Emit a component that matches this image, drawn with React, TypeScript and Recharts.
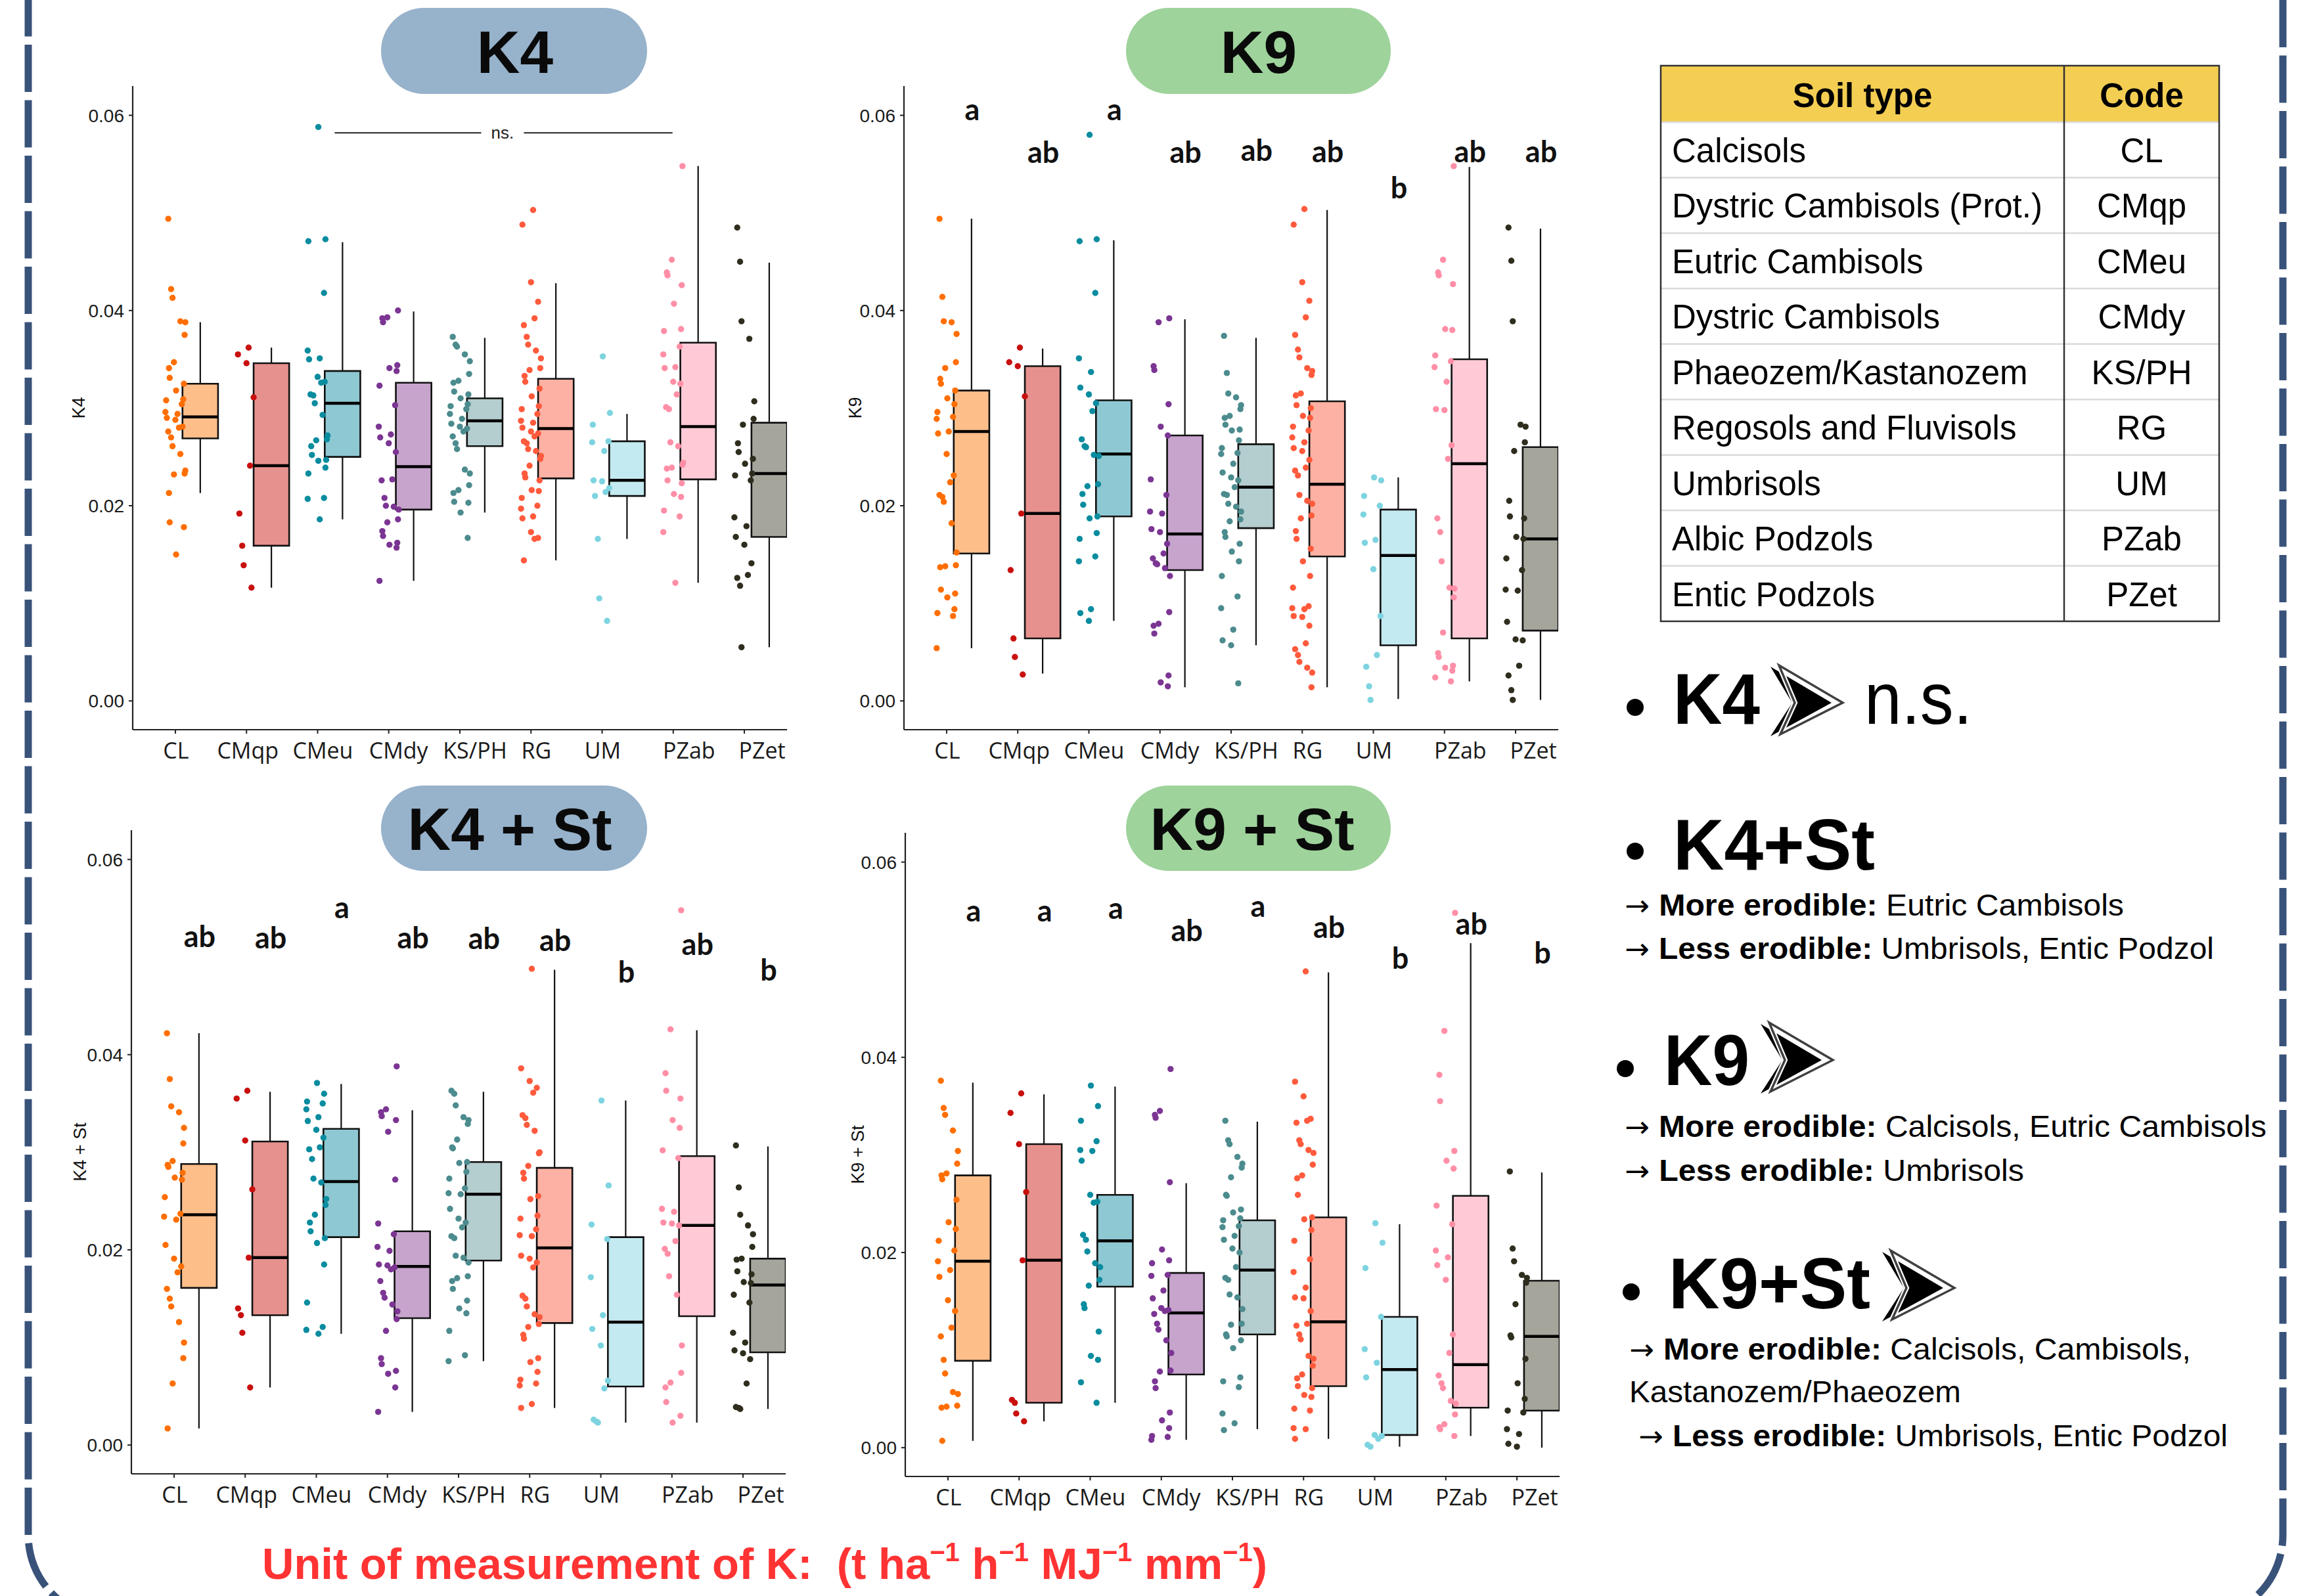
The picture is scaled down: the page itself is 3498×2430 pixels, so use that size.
import React from 'react';
import { ComposedChart, XAxis, YAxis, Scatter, ReferenceArea, ReferenceLine, Label } from 'recharts';

// ---------------- data ----------------
const CATEGORIES = ['CL', 'CMqp', 'CMeu', 'CMdy', 'KS/PH', 'RG', 'UM', 'PZab', 'PZet'];
const Y_TICKS = [0, 0.02, 0.04, 0.06];
const SOIL_TYPES = ['Calcisols', 'Dystric Cambisols (Prot.)', 'Eutric Cambisols', 'Dystric Cambisols', 'Phaeozem/Kastanozem', 'Regosols and Fluvisols', 'Umbrisols', 'Albic Podzols', 'Entic Podzols'];

// [lower whisker, q1, median, q3, upper whisker]
const K4_BOXES = [
  [0.0213, 0.0269, 0.0291, 0.0325, 0.0388], [0.0116, 0.0159, 0.0241, 0.0346, 0.0362], [0.0186, 0.0250, 0.0305, 0.0338, 0.0470],
  [0.0123, 0.0196, 0.0240, 0.0326, 0.0399], [0.0193, 0.0261, 0.0287, 0.0310, 0.0372], [0.0144, 0.0228, 0.0279, 0.0330, 0.0428],
  [0.0166, 0.0210, 0.0226, 0.0266, 0.0294], [0.0121, 0.0227, 0.0281, 0.0367, 0.0548], [0.0055, 0.0168, 0.0233, 0.0285, 0.0449],
];
const K4_POINTS = [
  [0.0494, 0.0422, 0.0413, 0.0389, 0.0388, 0.0375, 0.0347, 0.0341, 0.0331, 0.0325, 0.0318, 0.0309, 0.0308, 0.0304, 0.0296, 0.0294, 0.0290, 0.0288, 0.0281, 0.0280, 0.0276, 0.0270, 0.0261, 0.0253, 0.0236, 0.0233, 0.0232, 0.0213, 0.0183, 0.0178, 0.0150],
  [0.0362, 0.0355, 0.0346, 0.0311, 0.0241, 0.0192, 0.0159, 0.0139, 0.0116],
  [0.0588, 0.0473, 0.0471, 0.0418, 0.0359, 0.0351, 0.0350, 0.0332, 0.0327, 0.0326, 0.0314, 0.0313, 0.0305, 0.0293, 0.0272, 0.0268, 0.0267, 0.0261, 0.0252, 0.0247, 0.0246, 0.0239, 0.0233, 0.0208, 0.0207, 0.0186],
  [0.0400, 0.0393, 0.0392, 0.0388, 0.0344, 0.0341, 0.0338, 0.0323, 0.0303, 0.0281, 0.0273, 0.0270, 0.0264, 0.0255, 0.0227, 0.0226, 0.0208, 0.0200, 0.0199, 0.0196, 0.0186, 0.0183, 0.0174, 0.0169, 0.0162, 0.0160, 0.0157, 0.0123],
  [0.0373, 0.0365, 0.0363, 0.0355, 0.0348, 0.0335, 0.0328, 0.0326, 0.0317, 0.0314, 0.0310, 0.0304, 0.0302, 0.0299, 0.0294, 0.0289, 0.0284, 0.0281, 0.0279, 0.0276, 0.0271, 0.0264, 0.0258, 0.0237, 0.0233, 0.0221, 0.0216, 0.0213, 0.0204, 0.0203, 0.0193, 0.0167],
  [0.0503, 0.0488, 0.0429, 0.0409, 0.0392, 0.0385, 0.0373, 0.0365, 0.0359, 0.0351, 0.0341, 0.0339, 0.0333, 0.0327, 0.0320, 0.0312, 0.0302, 0.0299, 0.0294, 0.0287, 0.0285, 0.0280, 0.0276, 0.0274, 0.0271, 0.0266, 0.0264, 0.0258, 0.0256, 0.0251, 0.0248, 0.0241, 0.0233, 0.0229, 0.0226, 0.0216, 0.0215, 0.0208, 0.0200, 0.0197, 0.0189, 0.0187, 0.0173, 0.0167, 0.0166, 0.0144],
  [0.0353, 0.0295, 0.0283, 0.0266, 0.0265, 0.0256, 0.0226, 0.0225, 0.0218, 0.0214, 0.0210, 0.0166, 0.0105, 0.0082],
  [0.0548, 0.0452, 0.0439, 0.0436, 0.0426, 0.0407, 0.0381, 0.0379, 0.0363, 0.0355, 0.0342, 0.0341, 0.0327, 0.0325, 0.0314, 0.0301, 0.0299, 0.0265, 0.0261, 0.0244, 0.0242, 0.0239, 0.0238, 0.0226, 0.0223, 0.0212, 0.0209, 0.0195, 0.0189, 0.0173, 0.0121],
  [0.0485, 0.0450, 0.0389, 0.0371, 0.0307, 0.0289, 0.0283, 0.0264, 0.0255, 0.0248, 0.0243, 0.0233, 0.0231, 0.0226, 0.0188, 0.0179, 0.0168, 0.0160, 0.0141, 0.0129, 0.0126, 0.0118, 0.0055],
];

const K9_BOXES = [
  [0.0054, 0.0151, 0.0276, 0.0318, 0.0494], [0.0028, 0.0064, 0.0192, 0.0343, 0.0361], [0.0082, 0.0189, 0.0253, 0.0308, 0.0472],
  [0.0014, 0.0134, 0.0171, 0.0272, 0.0391], [0.0057, 0.0177, 0.0219, 0.0263, 0.0372], [0.0014, 0.0148, 0.0222, 0.0307, 0.0503],
  [0.0002, 0.0057, 0.0149, 0.0196, 0.0229], [0.0020, 0.0064, 0.0243, 0.0350, 0.0547], [0.0001, 0.0072, 0.0166, 0.0260, 0.0484],
];
const K9_POINTS = [
  [0.0494, 0.0414, 0.0389, 0.0388, 0.0376, 0.0347, 0.0341, 0.0330, 0.0325, 0.0318, 0.0310, 0.0304, 0.0296, 0.0291, 0.0289, 0.0276, 0.0274, 0.0253, 0.0231, 0.0224, 0.0211, 0.0209, 0.0204, 0.0182, 0.0152, 0.0139, 0.0138, 0.0137, 0.0114, 0.0110, 0.0106, 0.0094, 0.0090, 0.0087, 0.0054],
  [0.0362, 0.0347, 0.0343, 0.0312, 0.0192, 0.0134, 0.0064, 0.0045, 0.0027],
  [0.0580, 0.0473, 0.0471, 0.0418, 0.0351, 0.0337, 0.0321, 0.0314, 0.0305, 0.0297, 0.0268, 0.0261, 0.0260, 0.0252, 0.0251, 0.0222, 0.0220, 0.0212, 0.0201, 0.0189, 0.0187, 0.0172, 0.0166, 0.0148, 0.0143, 0.0094, 0.0090, 0.0082],
  [0.0392, 0.0388, 0.0343, 0.0339, 0.0304, 0.0281, 0.0272, 0.0227, 0.0211, 0.0194, 0.0192, 0.0176, 0.0173, 0.0161, 0.0151, 0.0146, 0.0141, 0.0140, 0.0136, 0.0128, 0.0091, 0.0079, 0.0077, 0.0069, 0.0026, 0.0019, 0.0015],
  [0.0374, 0.0336, 0.0315, 0.0311, 0.0303, 0.0299, 0.0292, 0.0290, 0.0283, 0.0278, 0.0277, 0.0267, 0.0259, 0.0254, 0.0253, 0.0243, 0.0234, 0.0229, 0.0226, 0.0219, 0.0212, 0.0211, 0.0202, 0.0199, 0.0194, 0.0186, 0.0184, 0.0173, 0.0168, 0.0161, 0.0153, 0.0143, 0.0128, 0.0107, 0.0095, 0.0073, 0.0062, 0.0057, 0.0018],
  [0.0504, 0.0488, 0.0429, 0.0410, 0.0393, 0.0375, 0.0360, 0.0352, 0.0341, 0.0338, 0.0334, 0.0315, 0.0313, 0.0303, 0.0300, 0.0292, 0.0290, 0.0281, 0.0277, 0.0270, 0.0265, 0.0259, 0.0256, 0.0247, 0.0239, 0.0236, 0.0231, 0.0211, 0.0205, 0.0202, 0.0190, 0.0187, 0.0174, 0.0166, 0.0156, 0.0143, 0.0128, 0.0116, 0.0097, 0.0095, 0.0094, 0.0087, 0.0086, 0.0077, 0.0059, 0.0053, 0.0047, 0.0040, 0.0034, 0.0029, 0.0014],
  [0.0229, 0.0226, 0.0210, 0.0200, 0.0191, 0.0165, 0.0162, 0.0135, 0.0087, 0.0047, 0.0035, 0.0015, 0.0001],
  [0.0548, 0.0452, 0.0439, 0.0436, 0.0427, 0.0381, 0.0380, 0.0354, 0.0348, 0.0342, 0.0327, 0.0299, 0.0298, 0.0262, 0.0248, 0.0187, 0.0173, 0.0143, 0.0116, 0.0115, 0.0106, 0.0070, 0.0049, 0.0045, 0.0036, 0.0034, 0.0031, 0.0024, 0.0020],
  [0.0485, 0.0451, 0.0389, 0.0283, 0.0281, 0.0265, 0.0256, 0.0205, 0.0189, 0.0187, 0.0168, 0.0166, 0.0146, 0.0134, 0.0114, 0.0113, 0.0081, 0.0063, 0.0062, 0.0036, 0.0026, 0.0011, 0.0001],
];
const K9_LETTERS = ['a', 'ab', 'a', 'ab', 'ab', 'ab', 'b', 'ab', 'ab'];
const K9_LETTER_Y = [0.0595, 0.0551, 0.0595, 0.0551, 0.0553, 0.0552, 0.0515, 0.0552, 0.0552];

const K4ST_BOXES = [
  [0.0017, 0.0161, 0.0236, 0.0288, 0.0422], [0.0059, 0.0133, 0.0192, 0.0311, 0.0362], [0.0114, 0.0213, 0.0270, 0.0324, 0.0370],
  [0.0034, 0.0130, 0.0183, 0.0219, 0.0343], [0.0086, 0.0189, 0.0257, 0.0290, 0.0362], [0.0038, 0.0125, 0.0202, 0.0284, 0.0487],
  [0.0023, 0.0060, 0.0126, 0.0213, 0.0353], [0.0023, 0.0132, 0.0225, 0.0296, 0.0425], [0.0037, 0.0095, 0.0164, 0.0191, 0.0306],
];
const K4ST_POINTS = [
  [0.0422, 0.0375, 0.0347, 0.0341, 0.0325, 0.0309, 0.0291, 0.0287, 0.0285, 0.0279, 0.0274, 0.0272, 0.0254, 0.0237, 0.0234, 0.0231, 0.0205, 0.0191, 0.0183, 0.0177, 0.0160, 0.0150, 0.0142, 0.0126, 0.0105, 0.0089, 0.0063, 0.0017],
  [0.0363, 0.0355, 0.0312, 0.0262, 0.0192, 0.0140, 0.0133, 0.0115, 0.0059],
  [0.0371, 0.0360, 0.0352, 0.0350, 0.0344, 0.0336, 0.0332, 0.0323, 0.0315, 0.0305, 0.0303, 0.0293, 0.0273, 0.0269, 0.0252, 0.0246, 0.0236, 0.0228, 0.0219, 0.0212, 0.0207, 0.0185, 0.0146, 0.0121, 0.0118, 0.0114],
  [0.0388, 0.0344, 0.0341, 0.0337, 0.0333, 0.0321, 0.0272, 0.0227, 0.0216, 0.0203, 0.0199, 0.0185, 0.0184, 0.0182, 0.0180, 0.0168, 0.0156, 0.0151, 0.0144, 0.0137, 0.0129, 0.0117, 0.0089, 0.0083, 0.0076, 0.0073, 0.0059, 0.0034],
  [0.0363, 0.0360, 0.0348, 0.0336, 0.0333, 0.0329, 0.0313, 0.0305, 0.0304, 0.0290, 0.0289, 0.0280, 0.0273, 0.0263, 0.0258, 0.0257, 0.0242, 0.0232, 0.0228, 0.0223, 0.0214, 0.0212, 0.0194, 0.0192, 0.0187, 0.0173, 0.0171, 0.0168, 0.0160, 0.0148, 0.0140, 0.0135, 0.0117, 0.0092, 0.0086],
  [0.0488, 0.0386, 0.0373, 0.0366, 0.0361, 0.0338, 0.0335, 0.0328, 0.0322, 0.0300, 0.0299, 0.0286, 0.0279, 0.0273, 0.0255, 0.0252, 0.0235, 0.0232, 0.0221, 0.0215, 0.0214, 0.0194, 0.0191, 0.0187, 0.0182, 0.0153, 0.0150, 0.0142, 0.0134, 0.0131, 0.0124, 0.0121, 0.0113, 0.0109, 0.0089, 0.0085, 0.0075, 0.0067, 0.0063, 0.0061, 0.0042, 0.0038],
  [0.0353, 0.0266, 0.0226, 0.0211, 0.0172, 0.0133, 0.0119, 0.0102, 0.0066, 0.0058, 0.0026, 0.0024, 0.0023],
  [0.0548, 0.0426, 0.0381, 0.0363, 0.0355, 0.0333, 0.0325, 0.0302, 0.0294, 0.0242, 0.0239, 0.0228, 0.0227, 0.0225, 0.0209, 0.0201, 0.0196, 0.0173, 0.0154, 0.0102, 0.0074, 0.0064, 0.0059, 0.0044, 0.0030, 0.0023],
  [0.0307, 0.0264, 0.0236, 0.0225, 0.0216, 0.0203, 0.0191, 0.0190, 0.0178, 0.0175, 0.0167, 0.0166, 0.0154, 0.0146, 0.0115, 0.0105, 0.0097, 0.0094, 0.0088, 0.0063, 0.0039, 0.0038, 0.0037],
];
const K4ST_LETTERS = ['ab', 'ab', 'a', 'ab', 'ab', 'ab', 'b', 'ab', 'b'];
const K4ST_LETTER_Y = [0.0510, 0.0509, 0.0540, 0.0509, 0.0508, 0.0506, 0.0474, 0.0502, 0.0476];

const K9ST_BOXES = [
  [0.0007, 0.0089, 0.0191, 0.0279, 0.0374], [0.0027, 0.0046, 0.0192, 0.0311, 0.0362], [0.0046, 0.0165, 0.0212, 0.0259, 0.0370],
  [0.0008, 0.0075, 0.0138, 0.0179, 0.0271], [0.0019, 0.0116, 0.0182, 0.0233, 0.0334], [0.0009, 0.0063, 0.0129, 0.0236, 0.0487],
  [0.0001, 0.0013, 0.0080, 0.0134, 0.0229], [0.0012, 0.0041, 0.0085, 0.0258, 0.0517], [0.0000, 0.0038, 0.0114, 0.0171, 0.0282],
];
const K9ST_POINTS = [
  [0.0376, 0.0348, 0.0341, 0.0325, 0.0304, 0.0291, 0.0281, 0.0279, 0.0275, 0.0254, 0.0231, 0.0224, 0.0212, 0.0202, 0.0191, 0.0182, 0.0175, 0.0151, 0.0140, 0.0123, 0.0114, 0.0090, 0.0076, 0.0057, 0.0055, 0.0043, 0.0042, 0.0041, 0.0007],
  [0.0363, 0.0343, 0.0311, 0.0262, 0.0192, 0.0049, 0.0046, 0.0035, 0.0027],
  [0.0371, 0.0350, 0.0335, 0.0314, 0.0305, 0.0304, 0.0294, 0.0259, 0.0252, 0.0251, 0.0218, 0.0213, 0.0201, 0.0189, 0.0185, 0.0172, 0.0166, 0.0147, 0.0143, 0.0119, 0.0094, 0.0090, 0.0067, 0.0046],
  [0.0388, 0.0345, 0.0341, 0.0338, 0.0272, 0.0203, 0.0192, 0.0189, 0.0177, 0.0176, 0.0161, 0.0153, 0.0143, 0.0141, 0.0140, 0.0137, 0.0127, 0.0121, 0.0110, 0.0097, 0.0079, 0.0078, 0.0068, 0.0061, 0.0036, 0.0028, 0.0020, 0.0012, 0.0011, 0.0008],
  [0.0335, 0.0315, 0.0311, 0.0298, 0.0291, 0.0287, 0.0277, 0.0259, 0.0258, 0.0244, 0.0241, 0.0235, 0.0233, 0.0227, 0.0226, 0.0217, 0.0213, 0.0204, 0.0200, 0.0185, 0.0174, 0.0172, 0.0157, 0.0154, 0.0142, 0.0127, 0.0126, 0.0116, 0.0114, 0.0110, 0.0102, 0.0072, 0.0068, 0.0062, 0.0035, 0.0025, 0.0018],
  [0.0488, 0.0375, 0.0360, 0.0337, 0.0335, 0.0333, 0.0315, 0.0311, 0.0305, 0.0302, 0.0290, 0.0279, 0.0276, 0.0259, 0.0236, 0.0234, 0.0223, 0.0212, 0.0193, 0.0180, 0.0164, 0.0154, 0.0153, 0.0140, 0.0127, 0.0125, 0.0116, 0.0111, 0.0094, 0.0091, 0.0084, 0.0075, 0.0071, 0.0063, 0.0061, 0.0054, 0.0052, 0.0040, 0.0038, 0.0020, 0.0019, 0.0009],
  [0.0230, 0.0210, 0.0184, 0.0134, 0.0101, 0.0087, 0.0072, 0.0013, 0.0012, 0.0009, 0.0003, 0.0001],
  [0.0548, 0.0427, 0.0382, 0.0355, 0.0304, 0.0294, 0.0286, 0.0248, 0.0229, 0.0202, 0.0195, 0.0187, 0.0172, 0.0116, 0.0097, 0.0074, 0.0066, 0.0061, 0.0048, 0.0045, 0.0034, 0.0024, 0.0021, 0.0019, 0.0012],
  [0.0283, 0.0204, 0.0191, 0.0177, 0.0174, 0.0169, 0.0147, 0.0115, 0.0113, 0.0091, 0.0066, 0.0050, 0.0038, 0.0036, 0.0019, 0.0014, 0.0004, 0.0001],
];
const K9ST_LETTERS = ['a', 'a', 'a', 'ab', 'a', 'ab', 'b', 'ab', 'b'];
const K9ST_LETTER_Y = [0.0539, 0.0539, 0.0542, 0.0519, 0.0544, 0.0522, 0.0491, 0.0526, 0.0496];

// "ns." bracket of K4 panel: [x start, x end] segments (category units) and its level
const K4_NS_SEGMENTS = [[2.24, 4.30], [4.90, 6.99]];
const K4_NS_TEXT_X = 4.6;
const K4_NS_Y = 0.0582;

// ---------------- style ----------------
const DOT_COLORS = ['#FF6E00', '#C8100E', '#0A8C9F', '#7B3593', '#4C8B8E', '#FF5A3C', '#7DD4E0', '#FF8EA6', '#2F2D1D'];
const BOX_COLORS = ['#FDBE8A', '#E6918D', '#8EC8D2', '#C6A4CC', '#B4CDCE', '#FCB1A4', '#C3EAF0', '#FFCAD6', '#A5A59C'];
const JITTER = [-0.10, 0.07, -0.02, 0.12, -0.13, 0.03, 0.10, -0.06, 0.14, -0.09, 0.01, 0.09, -0.12, 0.05, -0.04, 0.13, -0.08, 0.11, -0.14, 0.0];
const TICK_LABEL_DX = [1, 2, 8, 15, 23, 8, 1, 24, 27];
const BOX_SHIFT = 0.35;
const BOX_HALF = 0.25;
const PLOT_W = 996;
const PLOT_H = 980;
const Y_W = 150;
const X_H = 80;
const Y_DOMAIN: [number, number] = [-0.00295, 0.0630];
const SANS = '"Liberation Sans", Arial, sans-serif';

const PANELS = [
  { key: 'k4', left: 202, top: 131, yLabel: 'K4', yLabelDx: 68, boxes: K4_BOXES, points: K4_POINTS, letters: null, letterY: null, ns: true },
  { key: 'k9', left: 1376, top: 131, yLabel: 'K9', yLabelDx: 76, boxes: K9_BOXES, points: K9_POINTS, letters: K9_LETTERS, letterY: K9_LETTER_Y, ns: false },
  { key: 'k4st', left: 200, top: 1264, yLabel: 'K4 + St', yLabelDx: 72, boxes: K4ST_BOXES, points: K4ST_POINTS, letters: K4ST_LETTERS, letterY: K4ST_LETTER_Y, ns: false },
  { key: 'k9st', left: 1378, top: 1268, yLabel: 'K9 + St', yLabelDx: 78, boxes: K9ST_BOXES, points: K9ST_POINTS, letters: K9ST_LETTERS, letterY: K9ST_LETTER_Y, ns: false },
];

const dotShape = (p: any) => (
  <circle cx={p.cx} cy={p.cy} r={4.7} fill={DOT_COLORS[p.payload.g]} />
);
const letterShape = (p: any) => (
  <text x={p.cx} y={p.cy} textAnchor="middle" fontFamily="Lato, sans-serif" fontWeight={700} fontSize={45} fill="#111">{p.payload.t}</text>
);
const nsShape = (p: any) => (
  <text x={p.cx} y={p.cy} textAnchor="middle" dominantBaseline="central" fontFamily={SANS} fontSize={26} fill="#222">ns.</text>
);
const xTick = (p: any) => {
  const i = p.payload ? p.payload.value : 0;
  return (
    <text x={p.x + (TICK_LABEL_DX[i] || 0)} y={p.y} dy="0.71em" textAnchor="middle" fontSize={34} fill="#1a1a1a" fontFamily='"Open Sans", sans-serif'>
      {CATEGORIES[i]}
    </text>
  );
};

function Panel({ cfg }: { cfg: any }) {
  const pts: any[] = [];
  cfg.points.forEach((arr: number[], g: number) =>
    arr.forEach((v: number, i: number) => pts.push({ x: g + JITTER[(i * 7 + g * 5) % JITTER.length], y: v, g }))
  );
  const letterData = cfg.letters ? cfg.letters.map((t: string, g: number) => ({ x: g + BOX_SHIFT + 0.01, y: cfg.letterY[g], t })) : [];
  const boxEls: any[] = [];
  cfg.boxes.forEach(([lo, q1, med, q3, hi]: number[], g: number) => {
    const cx = g + BOX_SHIFT;
    boxEls.push(<ReferenceLine key={`wl${g}`} segment={[{ x: cx, y: lo }, { x: cx, y: q1 }]} stroke="#111" strokeWidth={2.2} />);
    boxEls.push(<ReferenceLine key={`wh${g}`} segment={[{ x: cx, y: q3 }, { x: cx, y: hi }]} stroke="#111" strokeWidth={2.2} />);
    boxEls.push(<ReferenceArea key={`b${g}`} x1={cx - BOX_HALF} x2={cx + BOX_HALF} y1={q1} y2={q3} fill={BOX_COLORS[g]} fillOpacity={1} stroke="#111" strokeWidth={2.6} />);
    boxEls.push(<ReferenceLine key={`m${g}`} segment={[{ x: cx - BOX_HALF, y: med }, { x: cx + BOX_HALF, y: med }]} stroke="#000" strokeWidth={4.5} />);
  });
  if (cfg.ns) {
    K4_NS_SEGMENTS.forEach(([a, b], i) =>
      boxEls.push(<ReferenceLine key={`ns${i}`} segment={[{ x: a, y: K4_NS_Y }, { x: b, y: K4_NS_Y }]} stroke="#222" strokeWidth={2} />)
    );
  }
  const yLabelContent = (props: any) => {
    const vb = props && props.viewBox ? props.viewBox : { x: 0, y: 0, width: Y_W, height: PLOT_H };
    const x = (vb.x || 0) + cfg.yLabelDx;
    const y = (vb.y || 0) + (vb.height || PLOT_H) / 2;
    return (
      <text x={x} y={y} transform={`rotate(-90 ${x} ${y})`} textAnchor="middle" dominantBaseline="central" fontFamily={SANS} fontSize={27} fill="#111">{cfg.yLabel}</text>
    );
  };
  return (
    <div style={{ position: 'absolute', left: cfg.left - Y_W, top: cfg.top }}>
      <ComposedChart width={PLOT_W + Y_W} height={PLOT_H + X_H} margin={{ top: 0, right: 0, bottom: 0, left: 0 }}>
        <XAxis type="number" dataKey="x" domain={[-0.6, 8.6]} allowDataOverflow ticks={CATEGORIES.map((_, i) => i)} interval={0}
          height={X_H} tickSize={6} tickMargin={14} tick={xTick}
          axisLine={{ stroke: '#222', strokeWidth: 2.2 }} tickLine={{ stroke: '#222', strokeWidth: 2 }} />
        <YAxis type="number" dataKey="y" domain={Y_DOMAIN} allowDataOverflow ticks={Y_TICKS} interval={0}
          tickFormatter={(v: number) => v.toFixed(2)} width={Y_W} tickSize={6} tickMargin={7}
          tick={{ fontSize: 28, fill: '#1a1a1a', fontFamily: SANS }}
          axisLine={{ stroke: '#222', strokeWidth: 2.2 }} tickLine={{ stroke: '#222', strokeWidth: 2 }}>
          <Label content={yLabelContent} />
        </YAxis>
        {boxEls}
        <Scatter data={pts} shape={dotShape} isAnimationActive={false} />
        {cfg.letters ? <Scatter data={letterData} shape={letterShape} isAnimationActive={false} /> : null}
        {cfg.ns ? <Scatter data={[{ x: K4_NS_TEXT_X, y: K4_NS_Y }]} shape={nsShape} isAnimationActive={false} /> : null}
      </ComposedChart>
    </div>
  );
}

const Chevron = ({ x, y }: { x: number; y: number }) => (
  <g transform={`translate(${x},${y})`}>
    <polygon points="1,3 94,58 1,109 34,58" fill="#000" />
    <polygon points="14,1 111,58 16,106 38,58" fill="none" stroke="#fff" strokeWidth={8} />
    <polygon points="14,1 111,58 16,106 38,58" fill="none" stroke="#404040" strokeWidth={3.5} />
  </g>
);

const Pill = ({ x, y, w, h, fill, text, tx, ty }: any) => (
  <g>
    <rect x={x} y={y} width={w} height={h} rx={h / 2} fill={fill} />
    <text x={tx} y={ty} textAnchor="middle" fontFamily={SANS} fontWeight={700} fontSize={91} fill="#0a0a0a" style={{ whiteSpace: 'pre' }}>{text}</text>
  </g>
);

const Sub = ({ x, y, w, bold, rest }: any) => (
  <text x={x} y={y} fontFamily={SANS} fontSize={47} fill="#000" textLength={w} lengthAdjust="spacingAndGlyphs">
    {bold ? <tspan fontFamily='"DejaVu Sans", sans-serif' fontSize={44}>{'→ '}</tspan> : null}
    {bold ? <tspan fontWeight={700}>{bold}</tspan> : null}
    <tspan>{(bold ? ' ' : '') + rest}</tspan>
  </text>
);

const Big = ({ x, y, w, text }: any) => (
  <text x={x} y={y} fontFamily={SANS} fontWeight={700} fontSize={110} fill="#000" textLength={w} lengthAdjust="spacingAndGlyphs">{text}</text>
);

function Overlay() {
  const T = { x: 2528, y: 100, w: 850, hh: 86, rh: 84.44, div: 3142 };
  return (
    <svg width={3498} height={2430} style={{ position: 'absolute', left: 0, top: 0 }}>
      <rect x={43} y={-300} width={3432} height={2765} rx={128} fill="none" stroke="#39527A" strokeWidth={11} strokeDasharray="72 12.5" />
      <Pill x={580} y={12} w={405} h={131} fill="#97B2CB" text="K4" tx={784} ty={111} />
      <Pill x={1714} y={12} w={403} h={131} fill="#9ED39B" text="K9" tx={1916} ty={111} />
      <Pill x={580} y={1196} w={405} h={130} fill="#97B2CB" text="K4 + St" tx={776} ty={1294} />
      <Pill x={1714} y={1196} w={403} h={130} fill="#9ED39B" text="K9 + St" tx={1906} ty={1294} />

      {/* table */}
      <rect x={T.x} y={T.y} width={T.w} height={T.hh} fill="#F4CE52" />
      {SOIL_TYPES.map((_, i) => (
        <line key={`rl${i}`} x1={T.x} x2={T.x + T.w} y1={T.y + T.hh + i * T.rh} y2={T.y + T.hh + i * T.rh} stroke="#DADADA" strokeWidth={2.5} />
      ))}
      <line x1={T.div} x2={T.div} y1={T.y} y2={T.y + T.hh + 9 * T.rh} stroke="#333" strokeWidth={2.5} />
      <rect x={T.x} y={T.y} width={T.w} height={T.hh + 9 * T.rh} fill="none" stroke="#333" strokeWidth={2.5} />
      <text x={(T.x + T.div) / 2} y={163} textAnchor="middle" fontFamily={SANS} fontWeight={700} fontSize={51} fill="#000">Soil type</text>
      <text x={(T.div + T.x + T.w) / 2} y={163} textAnchor="middle" fontFamily={SANS} fontWeight={700} fontSize={51} fill="#000">Code</text>
      {SOIL_TYPES.map((s, i) => (
        <g key={`row${i}`}>
          <text x={2545} y={T.y + T.hh + i * T.rh + 61} fontFamily={SANS} fontSize={51} fill="#000">{s}</text>
          <text x={(T.div + T.x + T.w) / 2} y={T.y + T.hh + i * T.rh + 61} textAnchor="middle" fontFamily={SANS} fontSize={51} fill="#000">{CATEGORIES[i]}</text>
        </g>
      ))}

      {/* right notes */}
      <circle cx={2489} cy={1077} r={13} fill="#000" />
      <Big x={2547} y={1102} w={132} text="K4" />
      <Chevron x={2694} y={1012} />
      <text x={2838} y={1102} fontFamily={SANS} fontSize={112} fill="#000" textLength={164} lengthAdjust="spacingAndGlyphs">n.s.</text>

      <circle cx={2489} cy={1296} r={13} fill="#000" />
      <Big x={2547} y={1324} w={307} text="K4+St" />
      <Sub x={2473} y={1394} w={760} bold="More erodible:" rest="Eutric Cambisols" />
      <Sub x={2473} y={1460} w={897} bold="Less erodible:" rest="Umbrisols, Entic Podzol" />

      <circle cx={2474} cy={1627} r={13} fill="#000" />
      <Big x={2533} y={1652} w={130} text="K9" />
      <Chevron x={2679} y={1556} />
      <Sub x={2473} y={1731} w={977} bold="More erodible:" rest="Calcisols, Eutric Cambisols" />
      <Sub x={2473} y={1798} w={608} bold="Less erodible:" rest="Umbrisols" />

      <circle cx={2483} cy={1967} r={13} fill="#000" />
      <Big x={2540} y={1992} w={307} text="K9+St" />
      <Chevron x={2864} y={1903} />
      <Sub x={2480} y={2070} w={855} bold="More erodible:" rest="Calcisols, Cambisols," />
      <Sub x={2480} y={2135} w={505} bold={null} rest="Kastanozem/Phaeozem" />
      <Sub x={2494} y={2202} w={897} bold="Less erodible:" rest="Umbrisols, Entic Podzol" />

      {/* unit */}
      <text x={399} y={2404} fontFamily={SANS} fontWeight={700} fontSize={67} fill="#FF3333" style={{ whiteSpace: 'pre' }}>
        <tspan>{'Unit of measurement of K:  (t ha'}</tspan>
        <tspan fontSize={40} dy={-27}>{'−1'}</tspan>
        <tspan dy={27}>{' h'}</tspan>
        <tspan fontSize={40} dy={-27}>{'−1'}</tspan>
        <tspan dy={27}>{' MJ'}</tspan>
        <tspan fontSize={40} dy={-27}>{'−1'}</tspan>
        <tspan dy={27}>{' mm'}</tspan>
        <tspan fontSize={40} dy={-27}>{'−1'}</tspan>
        <tspan dy={27}>{')'}</tspan>
      </text>
    </svg>
  );
}

export default function App() {
  return (
    <div style={{ position: 'absolute', left: 0, top: 0, width: 3498, height: 2430, background: '#fff', overflow: 'hidden' }}>
      <Overlay />
      {PANELS.map((p) => <Panel key={p.key} cfg={p} />)}
    </div>
  );
}
